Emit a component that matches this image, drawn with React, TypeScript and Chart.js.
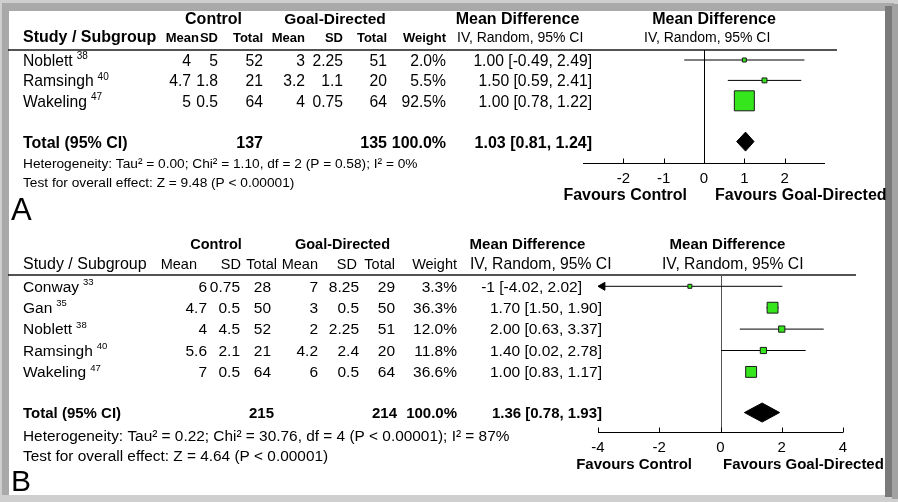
import React, { useEffect, useRef } from 'react';
import { Chart, registerables } from 'chart.js';

Chart.register(...registerables);

const FONT = '"Liberation Sans", Arial, Helvetica, sans-serif';
const GREEN = '#36e61c';
const COL_HEADS = ['Mean', 'SD', 'Total', 'Mean', 'SD', 'Total', 'Weight'];

// ---------- Panel A ----------
const studiesA = ['Noblett', 'Ramsingh', 'Wakeling'];
const refsA = ['38', '40', '47'];
const ctrlMeanA = [4, 4.7, 5];
const ctrlSdA = [5, 1.8, 0.5];
const ctrlTotalA = [52, 21, 64];
const gdMeanA = [3, 3.2, 4];
const gdSdA = [2.25, 1.1, 0.75];
const gdTotalA = [51, 20, 64];
const weightA = [2.0, 5.5, 92.5];
const mdA = ['1.00', '1.50', '1.00'];
const loA = ['-0.49', '0.59', '0.78'];
const hiA = ['2.49', '2.41', '1.22'];
const pooledA = ['1.03', '0.81', '1.24'];
const hetA = 'Heterogeneity: Tau² = 0.00; Chi² = 1.10, df = 2 (P = 0.58); I² = 0%';
const testA = 'Test for overall effect: Z = 9.48 (P < 0.00001)';
const ticksA = [-2, -1, 0, 1, 2];

// ---------- Panel B ----------
const studiesB = ['Conway', 'Gan', 'Noblett', 'Ramsingh', 'Wakeling'];
const refsB = ['33', '35', '38', '40', '47'];
const ctrlMeanB = [6, 4.7, 4, 5.6, 7];
const ctrlSdB = [0.75, 0.5, 4.5, 2.1, 0.5];
const ctrlTotalB = [28, 50, 52, 21, 64];
const gdMeanB = [7, 3, 2, 4.2, 6];
const gdSdB = [8.25, 0.5, 2.25, 2.4, 0.5];
const gdTotalB = [29, 50, 51, 20, 64];
const weightB = [3.3, 36.3, 12.0, 11.8, 36.6];
const mdB = ['-1', '1.70', '2.00', '1.40', '1.00'];
const loB = ['-4.02', '1.50', '0.63', '0.02', '0.83'];
const hiB = ['2.02', '1.90', '3.37', '2.78', '1.17'];
const pooledB = ['1.36', '0.78', '1.93'];
const hetB = 'Heterogeneity: Tau² = 0.22; Chi² = 30.76, df = 4 (P < 0.00001); I² = 87%';
const testB = 'Test for overall effect: Z = 4.64 (P < 0.00001)';
const ticksB = [-4, -2, 0, 2, 4];

type Layout = {
  top: number;
  height: number;
  area: { left: number; right: number; top: number; bottom: number };
  rowY0: number;
  rowStep: number;
  totalRow: number;
  textDy: number;
  head1Y: number;
  head1: { t: string; x: number; font: string }[];
  head2Y: number;
  studyHeadFont: string;
  colHeadFont: string;
  colHeadRight: number[];
  ivFont: string;
  ivX: number[];
  ruleX0: number;
  ruleX1: number;
  nameX: number;
  rowFont: string;
  supFont: string;
  colRight: number[];
  effectRight: number;
  effectRightAt: Record<number, number>;
  totalFont: string;
  totalRight: number[];
  footFont: string;
  hetY: number;
  testY: number;
  letterFont: string;
  letterX: number;
  letterY: number;
  tickFont: string;
  tickY: number;
  tickLen: number;
  favFont: string;
  favY: number;
  favCtrlRight: number;
  favGdLeft: number;
  zeroColor: string;
  sqK: number;
  sqMin: number;
  diamondHalfPx: number;
};

type Spec = {
  letter: string;
  studies: string[];
  refs: string[];
  columns: number[][];
  weight: number[];
  md: string[];
  lo: string[];
  hi: string[];
  pooled: string[];
  het: string;
  test: string;
  ticks: number[];
  xMin: number;
  xMax: number;
  L: Layout;
};

const layoutA: Layout = {
  top: 0,
  height: 225,
  area: { left: 583, right: 825, top: 50, bottom: 163 },
  rowY0: 60,
  rowStep: 20.4,
  totalRow: 4,
  textDy: 1.5,
  head1Y: 19.3,
  head1: [
    { t: 'Control', x: 213.5, font: 'bold 16px' },
    { t: 'Goal-Directed', x: 335, font: 'bold 15.5px' },
    { t: 'Mean Difference', x: 517.5, font: 'bold 16px' },
    { t: 'Mean Difference', x: 714, font: 'bold 16px' },
  ],
  head2Y: 38,
  studyHeadFont: 'bold 16px',
  colHeadFont: 'bold 13px',
  colHeadRight: [199, 218, 263, 305, 343, 387, 446],
  ivFont: '14px',
  ivX: [457, 644],
  ruleX0: 8,
  ruleX1: 837,
  nameX: 23,
  rowFont: '15.7px',
  supFont: '10px',
  colRight: [191, 218, 263, 305, 343, 387],
  effectRight: 592,
  effectRightAt: {},
  totalFont: 'bold 16px',
  totalRight: [263, 387, 446],
  footFont: '13.7px',
  hetY: 164,
  testY: 183,
  letterFont: '31px',
  letterX: 11,
  letterY: 211.5,
  tickFont: '15px',
  tickY: 178.7,
  tickLen: 5,
  favFont: 'bold 16px',
  favY: 195.5,
  favCtrlRight: 687,
  favGdLeft: 715,
  zeroColor: '#000',
  sqK: 2.08,
  sqMin: 4,
  diamondHalfPx: 9.5,
};

const layoutB: Layout = {
  top: 225,
  height: 277,
  area: { left: 598, right: 843, top: 50, bottom: 207 },
  rowY0: 61.3,
  rowStep: 21.4,
  totalRow: 5.9,
  textDy: 1,
  head1Y: 19.5,
  head1: [
    { t: 'Control', x: 216, font: 'bold 14.5px' },
    { t: 'Goal-Directed', x: 342.5, font: 'bold 14.5px' },
    { t: 'Mean Difference', x: 527.5, font: 'bold 15px' },
    { t: 'Mean Difference', x: 727.5, font: 'bold 15px' },
  ],
  head2Y: 40,
  studyHeadFont: '16px',
  colHeadFont: '14.5px',
  colHeadRight: [197, 241, 277, 318, 357, 395, 457],
  ivFont: '15.7px',
  ivX: [470, 662],
  ruleX0: 8,
  ruleX1: 856,
  nameX: 23,
  rowFont: '15.5px',
  supFont: '9.5px',
  colRight: [207, 240, 271, 318, 359, 395],
  effectRight: 602,
  effectRightAt: { 0: 582 },
  totalFont: 'bold 15px',
  totalRight: [274, 397, 457],
  footFont: '15.4px',
  hetY: 211.5,
  testY: 231.7,
  letterFont: '30px',
  letterX: 11,
  letterY: 257.5,
  tickFont: '15px',
  tickY: 223,
  tickLen: 5,
  favFont: 'bold 15px',
  favY: 240,
  favCtrlRight: 692,
  favGdLeft: 723,
  zeroColor: '#555',
  sqK: 1.8,
  sqMin: 4,
  diamondHalfPx: 9.5,
};

const specA: Spec = {
  letter: 'A',
  studies: studiesA,
  refs: refsA,
  columns: [ctrlMeanA, ctrlSdA, ctrlTotalA, gdMeanA, gdSdA, gdTotalA],
  weight: weightA,
  md: mdA,
  lo: loA,
  hi: hiA,
  pooled: pooledA,
  het: hetA,
  test: testA,
  ticks: ticksA,
  xMin: -3,
  xMax: 3,
  L: layoutA,
};

const specB: Spec = {
  letter: 'B',
  studies: studiesB,
  refs: refsB,
  columns: [ctrlMeanB, ctrlSdB, ctrlTotalB, gdMeanB, gdSdB, gdTotalB],
  weight: weightB,
  md: mdB,
  lo: loB,
  hi: hiB,
  pooled: pooledB,
  het: hetB,
  test: testB,
  ticks: ticksB,
  xMin: -4,
  xMax: 4,
  L: layoutB,
};

const sum = (a: number[]) => a.reduce((s, v) => s + v, 0);

function tablePlugin(spec: Spec) {
  const L = spec.L;
  return {
    id: 'forestTable',
    beforeDatasetsDraw(chart: any) {
      const { ctx, chartArea: a, scales } = chart;
      const seg = (x1: number, y1: number, x2: number, y2: number) => {
        ctx.beginPath();
        ctx.moveTo(x1, y1);
        ctx.lineTo(x2, y2);
        ctx.stroke();
      };
      ctx.save();
      // rule under the column headings
      ctx.strokeStyle = '#1a1a1a';
      ctx.lineWidth = 1.5;
      seg(L.ruleX0, a.top, L.ruleX1, a.top);
      // line of no effect
      const xz = Math.round(scales.x.getPixelForValue(0)) + 0.5;
      ctx.strokeStyle = L.zeroColor;
      ctx.lineWidth = 1;
      seg(xz, a.top, xz, a.bottom);
      // effect axis with upward ticks
      ctx.strokeStyle = '#000';
      const yb = Math.round(a.bottom) + 0.5;
      seg(a.left, yb, a.right, yb);
      spec.ticks.forEach((v) => {
        const px = Math.round(scales.x.getPixelForValue(v)) + 0.5;
        seg(px, yb - L.tickLen, px, yb);
      });
      ctx.restore();
    },
    afterDraw(chart: any) {
      const { ctx, scales } = chart;
      const t = (s: string, x: number, y: number, font: string, align: CanvasTextAlign = 'left') => {
        ctx.font = `${font} ${FONT}`;
        ctx.textAlign = align;
        ctx.fillText(s, x, y);
      };
      ctx.save();
      ctx.fillStyle = '#000';
      ctx.textBaseline = 'middle';

      L.head1.forEach((h) => t(h.t, h.x, L.head1Y, h.font, 'center'));
      t('Study / Subgroup', L.nameX, L.head2Y, L.studyHeadFont);
      COL_HEADS.forEach((h, j) => t(h, L.colHeadRight[j], L.head2Y, L.colHeadFont, 'right'));
      L.ivX.forEach((x) => t('IV, Random, 95% CI', x, L.head2Y, L.ivFont));

      spec.studies.forEach((name, i) => {
        const y = scales.y.getPixelForValue(i) + L.textDy;
        t(name, L.nameX, y, L.rowFont);
        const w = ctx.measureText(name).width;
        t(spec.refs[i], L.nameX + w + 4, y - 5, L.supFont);
        spec.columns.forEach((col, j) => t(String(col[i]), L.colRight[j], y, L.rowFont, 'right'));
        t(spec.weight[i].toFixed(1) + '%', L.colHeadRight[6], y, L.rowFont, 'right');
        const er = L.effectRightAt[i] ?? L.effectRight;
        t(`${spec.md[i]} [${spec.lo[i]}, ${spec.hi[i]}]`, er, y, L.rowFont, 'right');
      });

      const ty = scales.y.getPixelForValue(L.totalRow) + L.textDy;
      t('Total (95% CI)', L.nameX, ty, L.totalFont);
      t(String(sum(spec.columns[2])), L.totalRight[0], ty, L.totalFont, 'right');
      t(String(sum(spec.columns[5])), L.totalRight[1], ty, L.totalFont, 'right');
      t(sum(spec.weight).toFixed(1) + '%', L.totalRight[2], ty, L.totalFont, 'right');
      t(`${spec.pooled[0]} [${spec.pooled[1]}, ${spec.pooled[2]}]`, L.effectRight, ty, L.totalFont, 'right');

      t(spec.het, L.nameX, L.hetY, L.footFont);
      t(spec.test, L.nameX, L.testY, L.footFont);
      t(spec.letter, L.letterX, L.letterY, L.letterFont);

      spec.ticks.forEach((v) => t(String(v), scales.x.getPixelForValue(v), L.tickY, L.tickFont, 'center'));
      t('Favours Control', L.favCtrlRight, L.favY, L.favFont, 'right');
      t('Favours Goal-Directed', L.favGdLeft, L.favY, L.favFont, 'left');
      ctx.restore();
    },
  };
}

function buildConfig(spec: Spec): any {
  const L = spec.L;
  const a = L.area;
  const yMin = (a.top - L.rowY0) / L.rowStep;
  const yMax = (a.bottom - L.rowY0) / L.rowStep;
  const pxPerUnit = (a.right - a.left) / (spec.xMax - spec.xMin);

  const ciLines = spec.studies.map((_, i) => ({
    type: 'line',
    data: [
      { x: Math.max(Number(spec.lo[i]), spec.xMin), y: i },
      { x: Math.min(Number(spec.hi[i]), spec.xMax), y: i },
    ],
    borderColor: '#000',
    borderWidth: 1,
    pointRadius: 0,
    fill: false,
    tension: 0,
    order: 2,
  }));

  // arrowheads where a confidence interval runs past the axis
  const arrowR = 4.6;
  const arrows: any[] = [];
  spec.studies.forEach((_, i) => {
    if (Number(spec.lo[i]) < spec.xMin) {
      arrows.push({ x: spec.xMin + arrowR / pxPerUnit, y: i, rot: -90 });
    }
    if (Number(spec.hi[i]) > spec.xMax) {
      arrows.push({ x: spec.xMax - arrowR / pxPerUnit, y: i, rot: 90 });
    }
  });

  const squares = {
    type: 'scatter',
    data: spec.studies.map((_, i) => ({ x: Number(spec.md[i]), y: i })),
    pointStyle: 'rect',
    pointRadius: spec.weight.map((w) => Math.max(L.sqMin, L.sqK * Math.sqrt(w)) / Math.SQRT2),
    backgroundColor: GREEN,
    borderColor: '#1a1a1a',
    borderWidth: 1,
    order: 0,
  };

  const T = L.totalRow;
  const h = L.diamondHalfPx / L.rowStep;
  const [pm, pl, ph] = spec.pooled.map(Number);
  const diamond = {
    type: 'line',
    data: [
      { x: pl, y: T },
      { x: pm, y: T - h },
      { x: ph, y: T },
      { x: pm, y: T + h },
      { x: pl, y: T },
    ],
    borderColor: '#000',
    backgroundColor: '#000',
    borderWidth: 1,
    pointRadius: 0,
    tension: 0,
    fill: 'shape',
    order: 1,
  };

  const datasets: any[] = [...ciLines, squares, diamond];
  if (arrows.length) {
    datasets.push({
      type: 'scatter',
      data: arrows.map((p) => ({ x: p.x, y: p.y })),
      pointStyle: 'triangle',
      rotation: arrows.map((p) => p.rot),
      pointRadius: arrowR,
      backgroundColor: '#000',
      borderColor: '#000',
      borderWidth: 1,
      clip: false,
      order: 0,
    });
  }

  return {
    type: 'scatter',
    data: { datasets },
    options: {
      responsive: false,
      animation: false,
      events: [],
      devicePixelRatio: 1,
      layout: {
        padding: {
          left: a.left,
          right: 898 - a.right,
          top: a.top,
          bottom: L.height - a.bottom,
        },
      },
      scales: {
        x: { type: 'linear', min: spec.xMin, max: spec.xMax, display: false },
        y: { type: 'linear', min: yMin, max: yMax, reverse: true, display: false },
      },
      plugins: {
        legend: { display: false },
        tooltip: { enabled: false },
        title: { display: false },
      },
    },
    plugins: [tablePlugin(spec)],
  };
}

function ForestPanel({ spec }: { spec: Spec }) {
  const ref = useRef<HTMLCanvasElement>(null);
  useEffect(() => {
    if (!ref.current) return;
    const chart = new Chart(ref.current, buildConfig(spec));
    return () => chart.destroy();
  }, [spec]);
  return (
    <canvas
      ref={ref}
      width={898}
      height={spec.L.height}
      style={{ position: 'absolute', left: 0, top: spec.L.top, width: 898, height: spec.L.height }}
    />
  );
}

export default function App() {
  return (
    <div
      style={{
        position: 'fixed',
        left: 0,
        top: 0,
        width: 898,
        height: 502,
        background: '#cfcfcf',
        overflow: 'hidden',
      }}
    >
      <div style={{ position: 'absolute', left: 2, top: 3, width: 892, height: 492, background: '#a9a9a9' }} />
      <div style={{ position: 'absolute', left: 892, top: 4, width: 6, height: 495, background: '#a2a2a2' }} />
      <div style={{ position: 'absolute', left: 885, top: 6, width: 7, height: 491, background: '#7a7a7a' }} />
      <div style={{ position: 'absolute', left: 9, top: 11, width: 876, height: 484, background: '#ffffff' }} />
      <ForestPanel spec={specA} />
      <ForestPanel spec={specB} />
    </div>
  );
}
